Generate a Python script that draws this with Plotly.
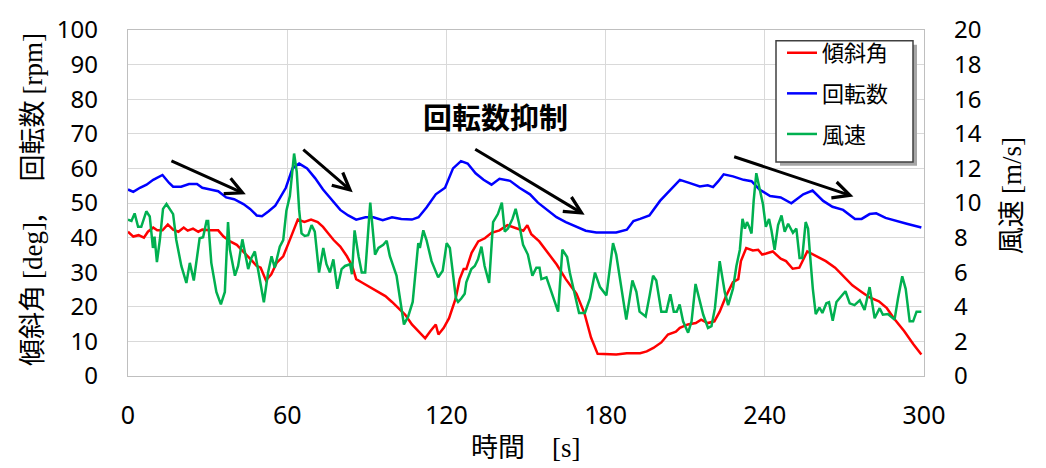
import plotly.graph_objects as go

# ---- measured time series -------------------------------------------------
# tilt angle [deg] (left axis)
time_tilt = [0, 2, 4, 6, 7.5, 9.5, 11, 13, 15, 17,
             19, 21, 22.5, 24.5, 26.5, 28, 31, 34, 36, 38.5,
             41, 43.5, 46, 48.5, 50, 52, 54, 56, 58.5, 60.5,
             62.5, 64, 66.5, 69, 71.5, 73.5, 75.5, 77.5, 80, 82.5,
             84.5, 86, 88, 91, 94.5, 97, 99.5, 102, 104.5, 107,
             109.5, 112, 114, 116, 117, 119, 121, 123.5, 125, 126.5,
             127.5, 129.5, 132, 134.5, 137, 140, 143, 146, 149, 150.5,
             152, 155, 158, 161.5, 165, 169, 172, 174.5, 177, 180,
             184, 188, 193, 195.5, 198, 201, 203.5, 206.5, 208, 211,
             214, 216, 218.5, 221, 223, 225.5, 228, 230, 231, 233,
             235.5, 237.5, 239, 240.5, 243, 246, 248, 250.5, 253, 256,
             259.5, 263, 266.5, 270, 273, 276.5, 279.5, 283, 286, 289,
             292.5, 296, 299]
tilt_deg = [41.7, 40.3, 40.7, 40, 41.7, 42.9, 42.1, 42.1, 43.8, 42.3,
            41.7, 42.9, 42, 42.6, 41.7, 42.3, 42.1, 42.1, 40.3, 38.9,
            37.9, 36, 33.9, 31.8, 31.3, 27.6, 29.4, 32.7, 34.6, 38.4,
            42.1, 45.2, 44.5, 45.2, 44.5, 43.1, 41.2, 39.3, 37.4, 34.6,
            31.8, 28, 27.1, 25.7, 24.3, 23.1, 21.4, 19.6, 17.7, 14.9,
            13, 10.9, 13, 14.9, 12, 13.9, 16.7, 22.4, 28, 30.9,
            30.9, 35.6, 38.9, 39.8, 41.4, 42.1, 43.6, 42.9, 42, 43.6,
            41, 38.9, 36, 32.3, 28, 23.8, 18.2, 11.1, 6.4, 6.4,
            6.2, 6.6, 6.6, 7.1, 8.1, 9.7, 12, 12.8, 13.9, 14.9,
            15.3, 16.3, 15.3, 15.8, 18.6, 23.3, 27.1, 28, 33.2, 37,
            36.3, 36.5, 35.1, 35.4, 36, 33.9, 33.2, 31, 31.3, 36,
            34.6, 33.2, 31.3, 28.5, 26.2, 24.3, 22.7, 21.6, 19.6, 16.3,
            13, 9.2, 6.2]

# rotor speed [rpm] (left axis)
time_rpm = [0, 2, 4.5, 7, 9.5, 13, 15.5, 17, 20, 23,
            26, 28, 31, 34, 37, 40, 43.5, 46, 48.5, 50.5,
            53, 55.5, 57, 59.5, 62, 64.5, 67.5, 70.5, 73.5, 76.5,
            80, 83, 86, 89.5, 92.5, 96, 99.5, 103, 107, 109.5,
            112.5, 116, 119.5, 122.5, 125.5, 128, 131, 134, 137, 140,
            144, 147.5, 151.5, 154.5, 157.5, 161.5, 165, 169, 172.5, 176.5,
            180, 184, 188, 190.5, 193, 196.5, 200.5, 204, 208, 211.5,
            215.5, 218.5, 220.5, 222.5, 224.5, 228, 232, 235, 238, 242,
            246, 250, 254.5, 258, 262, 265.5, 269.5, 274, 276.5, 279.5,
            282, 285.5, 289.5, 293.5, 299]
rotor_rpm = [53.9, 53.2, 54.4, 55.3, 56.7, 58.1, 55.8, 54.7, 54.7, 55.5,
             55.5, 54.4, 53.9, 53.4, 51.6, 51.1, 49.7, 48.3, 46.4, 46.2,
             47.6, 49.2, 51.1, 54.4, 60, 61.4, 60, 57.2, 53.9, 51.1,
             48, 46.4, 45.2, 45.9, 45.9, 45, 45.9, 45.4, 45.2, 45.9,
             48.7, 52.5, 54.4, 60, 62.1, 61.4, 58.6, 56.7, 55.3, 57,
             56.4, 54.4, 52.5, 50.1, 48.3, 45.9, 44.5, 43.1, 42, 41.5,
             41.4, 41.5, 42.3, 44.8, 45.4, 46.4, 50.6, 53.4, 56.7, 55.8,
             54.8, 55.1, 54.6, 56.3, 58.3, 57.7, 56.7, 56.3, 53.9, 52,
             51.6, 49.9, 52.5, 53.6, 50.6, 48.9, 48, 45.4, 45.4, 46.8,
             47, 45.7, 44.8, 44, 42.9]

# wind speed [m/s] (right axis)
time_wind = [0, 1.3, 2.5, 3.8, 5, 6.9, 8.2, 9.4, 10, 10.9,
             12, 13.2, 14.5, 15.7, 17, 18.2, 20.1, 22, 23.3, 24.8,
             27, 28.3, 29.6, 30.2, 31.4, 33.3, 35, 36.5, 37.7, 38.4,
             40.3, 41.5, 43.1, 45.3, 46.5, 47.8, 49.1, 51.2, 52.8, 54.1,
             55.3, 57.2, 58.5, 59.7, 61, 62.6, 63.6, 64.5, 65.4, 66.6,
             67.9, 69.2, 70.4, 72, 73.6, 74.8, 76.1, 77.4, 78.9, 80.5,
             81.8, 83.7, 84.4, 85.4, 86.9, 88.1, 89.4, 91.3, 93.1, 94.4,
             96.2, 97.5, 98.7, 101.2, 102.5, 104, 105.6, 107.3, 109.4, 110,
             111.3, 112.5, 114.4, 116.9, 118.6, 120.1, 121.3, 122.5, 123.6, 124.4,
             125.6, 126.9, 127.5, 129.4, 130.7, 131.9, 133.2, 134.4, 136.1, 137.6,
             139.4, 140.9, 142, 143.2, 144.9, 146.1, 147.4, 148.9, 150.7, 152.4,
             153.9, 155.1, 155.8, 157.7, 159.6, 160.8, 162.1, 163.7, 165.5, 166.5,
             168.4, 170, 172.2, 174.1, 176, 177.9, 180.3, 182.8, 184, 185.9,
             187.8, 190.1, 191.6, 192.8, 195.1, 196.6, 197.9, 199.1, 201, 202.9,
             204.4, 205.7, 206.8, 207.9, 209.2, 211.1, 212.4, 213.9, 215.5, 216.8,
             218.6, 219.9, 221.2, 223, 224.9, 226.2, 228, 229.3, 230.6, 231.6,
             232.5, 233.3, 234.1, 235, 235.8, 236.8, 238.1, 239.3, 240.4, 241.6,
             242.5, 243.7, 245, 246.3, 247.5, 248.8, 250.6, 251.9, 253.1, 254.1,
             255.4, 256.3, 257.1, 258.1, 259.2, 260.6, 261.7, 263.2, 264.2, 265.6,
             267, 268.2, 270.4, 272, 273.8, 275.8, 277.6, 279.5, 281.4, 283.3,
             284.5, 286.4, 288.9, 290.2, 291.8, 293.1, 294.6, 295.9, 297.2, 299]
wind_ms = [9.04, 8.96, 9.4, 8.62, 8.62, 9.52, 9.22, 7.4, 8.06, 6.58,
           7.86, 9.66, 9.94, 9.66, 9.36, 7.86, 6.36, 5.38, 6.54, 5.52,
           7.96, 8.02, 8.96, 8.96, 6.54, 4.86, 4.14, 4.86, 8.9, 7.3,
           5.8, 6.36, 7.9, 6.18, 6.82, 7.2, 5.98, 4.26, 5.98, 6.92,
           6.26, 7.48, 7.86, 9.56, 10.4, 12.86, 11.8, 9.6, 8.24, 8.1,
           8.14, 8.72, 8.34, 5.98, 7.4, 6.46, 5.98, 6.74, 5.04, 6.18,
           6.36, 6.46, 5.88, 8.42, 6.92, 5.98, 5.98, 10.02, 7.02, 7.4,
           7.58, 7.82, 6.92, 5.8, 4.48, 2.98, 3.44, 4.28, 7.68, 7.4,
           8.42, 7.86, 6.64, 5.7, 6.08, 7.68, 7.4, 5.98, 4.48, 4.28,
           4.48, 4.76, 5.42, 6.18, 6.36, 6.74, 7.48, 6.36, 5.38, 8.9,
           9.36, 10.02, 8.34, 8.52, 9.08, 9.66, 8.8, 7.58, 7.02, 5.8,
           6.26, 6.26, 5.6, 5.7, 4.86, 4.38, 3.72, 7.3, 6.88, 5.98,
           4.66, 3.64, 3.64, 4.48, 5.98, 5.14, 4.66, 7.68, 7.02, 5.14,
           3.26, 5.52, 4.86, 3.72, 3.44, 4.66, 5.8, 5.52, 3.72, 3.72,
           4.72, 3.72, 3.72, 4.14, 3.16, 2.5, 3.16, 5.32, 4.28, 3.54,
           2.78, 2.88, 3.92, 6.64, 4.86, 4.1, 5.04, 6.36, 7.3, 9.08,
           8.52, 8.9, 8.62, 8.24, 10.12, 11.72, 10.78, 9.94, 8.62, 9.08,
           8.42, 7.3, 8.72, 9.28, 8.34, 8.8, 8.28, 8.52, 6.82, 6.82,
           8.9, 8.52, 6.92, 5.04, 3.58, 3.96, 3.64, 4.2, 4.26, 3.2,
           4.28, 4.48, 4.9, 4.2, 4.1, 4.38, 3.82, 5.14, 3.34, 3.92,
           3.54, 3.58, 3.26, 4.48, 5.76, 5.04, 3.16, 3.16, 3.72, 3.72]

series_names = ["傾斜角", "回転数", "風速"]

x_ticks = [0, 60, 120, 180, 240, 300]
y_left_ticks = [0, 10, 20, 30, 40, 50, 60, 70, 80, 90, 100]
y_right_ticks = [0, 2, 4, 6, 8, 10, 12, 14, 16, 18, 20]

# ---- styling ----------------------------------------------------------------
CJK = "Noto Sans CJK JP"
SERIF = "Liberation Serif"
NUM = "Noto Sans"
GRID = "#d9d9d9"
AXLINE = "#bfbfbf"

W, H = 1046, 468
L, R, T, B = 128, 122, 22, 92
PW, PH = W - L - R, H - T - B


def px_to_paper(px, py):
    return (px - L) / PW, (H - B - py) / PH


def serif(txt):
    return f"<span style='font-family:{SERIF}'>{txt}</span>"


fig = go.Figure()
fig.add_trace(go.Scatter(x=time_tilt, y=tilt_deg, name=series_names[0], mode="lines",
                         line=dict(color="#ff0000", width=2.5), legendgroup="g1"))
fig.add_trace(go.Scatter(x=time_rpm, y=rotor_rpm, name=series_names[1], mode="lines",
                         line=dict(color="#0000ff", width=2.5), legendgroup="g2"))
fig.add_trace(go.Scatter(x=time_wind, y=wind_ms, name=series_names[2], mode="lines", yaxis="y2",
                         line=dict(color="#00b050", width=2.5), legendgroup="g3"))

annotations = []

# trend arrows (tail -> head, in data units of time / left axis)
arrow_specs = [
    ((15.8, 62.4), (44.4, 52.5)),
    ((65.5, 65.8), (84.7, 53.1)),
    ((130.3, 65.8), (172.1, 46.6)),
    ((227.9, 63.5), (273.4, 51.9)),
]
for (tx, ty), (hx, hy) in arrow_specs:
    annotations.append(dict(x=hx, y=hy, ax=tx, ay=ty, xref="x", yref="y", axref="x", ayref="y",
                            text="", showarrow=True, arrowhead=5, arrowsize=1.1, arrowwidth=3,
                            arrowcolor="black"))

annotations.append(dict(x=138.6, y=75.1, xref="x", yref="y", text="<b>回転数抑制</b>", showarrow=False,
                        font=dict(family=CJK, size=29, color="black")))

# axis titles
lx, ly = px_to_paper(30, 196)
annotations.append(dict(x=lx, y=ly, xref="paper", yref="paper", xanchor="center", yanchor="middle",
                        textangle=-90, showarrow=False,
                        text=f"傾斜角 {serif('[deg]')},\u3000 回転数 {serif('[rpm]')}",
                        font=dict(family=CJK, size=27, color="black")))
rx, ry = px_to_paper(1009, 192)
annotations.append(dict(x=rx, y=ry, xref="paper", yref="paper", xanchor="center", yanchor="middle",
                        textangle=-90, showarrow=False,
                        text=f"風速 {serif('[m/s]')}",
                        font=dict(family=CJK, size=27, color="black")))
bx, by = px_to_paper(526, 447)
annotations.append(dict(x=bx, y=by, xref="paper", yref="paper", xanchor="center", yanchor="middle",
                        showarrow=False,
                        text=f"時間\u3000{serif('[s]')}",
                        font=dict(family=CJK, size=27, color="black")))

# legend frame with drop shadow (legend itself is drawn transparent on top)
sh0 = px_to_paper(780, 161)
sh1 = px_to_paper(917, 37)
bx0 = px_to_paper(776, 157)
bx1 = px_to_paper(913, 33)
shapes = [
    dict(type="rect", xref="paper", yref="paper", x0=sh0[0], y0=sh0[1], x1=sh1[0], y1=sh1[1],
         fillcolor="#a6a6a6", line=dict(width=0), layer="above"),
    dict(type="rect", xref="paper", yref="paper", x0=bx0[0], y0=bx0[1], x1=bx1[0], y1=bx1[1],
         fillcolor="white", line=dict(color="#404040", width=1.5), layer="above"),
]

lg = px_to_paper(782, 24)

fig.update_layout(
    width=W, height=H,
    margin=dict(l=L, r=R, t=T, b=B, pad=0),
    paper_bgcolor="white", plot_bgcolor="white",
    showlegend=True,
    legend=dict(x=lg[0], y=lg[1], xanchor="left", yanchor="top", bgcolor="rgba(0,0,0,0)",
                borderwidth=0, tracegroupgap=9,
                font=dict(family=CJK, size=22, color="black"), itemwidth=30),
    xaxis=dict(range=[0, 300], tickvals=x_ticks, showgrid=True, gridcolor=GRID, gridwidth=1.3,
               showline=True, linecolor=AXLINE, linewidth=1.3, mirror=True, zeroline=False,
               ticks="", tickfont=dict(family=NUM, size=25, color="black"), ticklabelstandoff=17),
    yaxis=dict(range=[0, 100], tickvals=y_left_ticks, showgrid=True, gridcolor=GRID, gridwidth=1.3,
               showline=True, linecolor=AXLINE, linewidth=1.3, zeroline=False,
               ticks="", tickfont=dict(family=NUM, size=24, color="black"), ticklabelstandoff=24),
    yaxis2=dict(range=[0, 20], tickvals=y_right_ticks, overlaying="y", side="right", showgrid=False,
                showline=True, linecolor=AXLINE, linewidth=1.3, zeroline=False,
                ticks="", tickfont=dict(family=NUM, size=24, color="black"), ticklabelstandoff=24),
    annotations=annotations,
    shapes=shapes,
)

fig.write_html("out.html")
